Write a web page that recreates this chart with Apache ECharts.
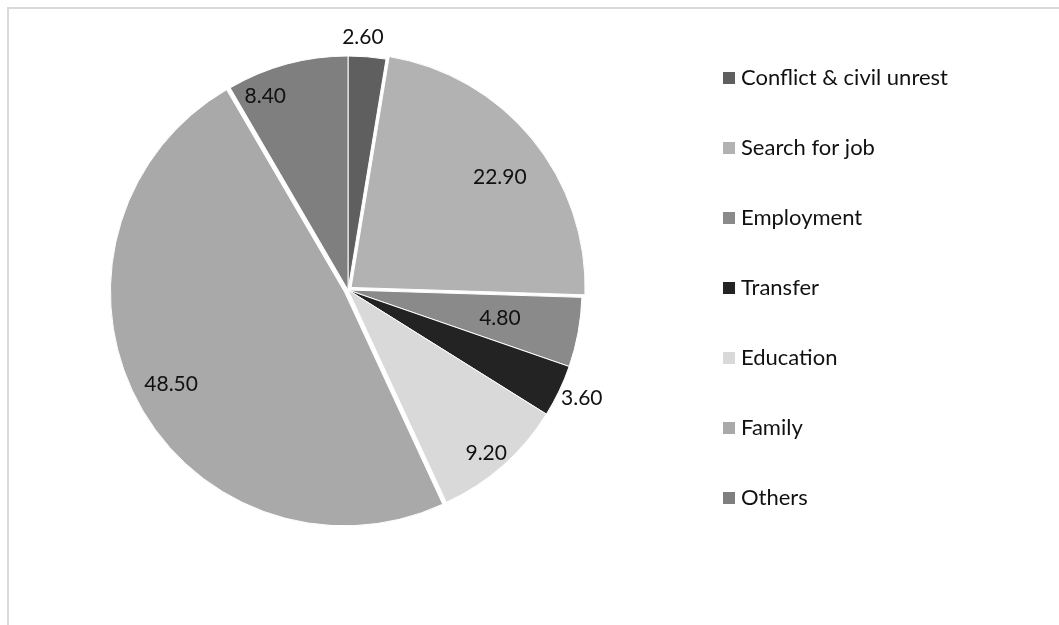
<!DOCTYPE html>
<html>
<head>
<meta charset="utf-8">
<script src="https://cdn.jsdelivr.net/npm/echarts@6/dist/echarts.min.js"></script>
<style>
  html, body { margin: 0; padding: 0; background: #fff; }
  #chart { width: 1059px; height: 625px; }
</style>
</head>
<body>
<div id="chart"></div>
<script>
// Reasons for migration (percent of respondents)
const categories = ['Conflict & civil unrest', 'Search for job', 'Employment', 'Transfer', 'Education', 'Family', 'Others'];
const shares = [2.60, 22.90, 4.80, 3.60, 9.20, 48.50, 8.40];
const colors = ['#5f5f5f', '#b2b2b2', '#8a8a8a', '#232323', '#d9d9d9', '#a9a9a9', '#7f7f7f'];
const pulledOut = [false, true, false, false, false, true, false];

// Label placement: distance from centre (fraction of radius) and a small turn off the bisector (degrees)
const labelRadius = [1.08, 0.79, 0.66, 1.10, 0.915, 0.84, 0.90];
const labelTurn = [-1.3, 3, 0, -0.8, 1.2, -0.6, -8];

const CX = 348, CY = 290, R = 234;
const FONT = 'Lato, "Open Sans", sans-serif';

const total = shares.reduce((a, b) => a + b, 0);
const midAngles = [];
let acc = 0;
shares.forEach(v => { midAngles.push((acc + v / 2) / total * 360); acc += v; });

const chart = echarts.init(document.getElementById('chart'));
chart.setOption({
  animation: false,
  backgroundColor: '#ffffff',
  color: colors,
  graphic: [
    { type: 'line', shape: { x1: 7, y1: 8, x2: 1059, y2: 8 }, style: { stroke: '#d9d9d9', lineWidth: 2 }, silent: true },
    { type: 'line', shape: { x1: 8, y1: 7, x2: 8, y2: 625 }, style: { stroke: '#d9d9d9', lineWidth: 2 }, silent: true }
  ],
  legend: {
    orient: 'vertical',
    left: 721,
    top: 67,
    padding: 0,
    itemWidth: 14,
    itemHeight: 14,
    itemGap: 48,
    icon: 'rect',
    selectedMode: false,
    textStyle: { fontFamily: FONT, fontSize: 22, color: '#111', lineHeight: 22 },
    data: categories
  },
  series: [{
    type: 'pie',
    center: [CX, CY],
    radius: [0, R],
    startAngle: 90,
    clockwise: true,
    selectedMode: 'multiple',
    selectedOffset: 4,
    avoidLabelOverlap: false,
    itemStyle: { borderColor: '#ffffff', borderWidth: 1 },
    emphasis: { disabled: true },
    label: {
      show: true,
      position: 'inside',
      fontFamily: FONT,
      fontSize: 21,
      color: '#111',
      formatter: p => shares[p.dataIndex].toFixed(2)
    },
    labelLine: { show: false },
    // move each label from its default spot to the chosen polar position
    labelLayout: function (p) {
      const i = p.dataIndex;
      const a = (midAngles[i] + labelTurn[i]) * Math.PI / 180;
      const r = labelRadius[i] * R;
      const tx = CX + r * Math.sin(a);
      const ty = CY - r * Math.cos(a);
      const lr = p.labelRect;
      return {
        dx: tx - (lr.x + lr.width / 2),
        dy: ty - (lr.y + lr.height / 2)
      };
    },
    data: categories.map((name, i) => ({ name, value: shares[i], selected: pulledOut[i] }))
  }]
});
</script>
</body>
</html>
